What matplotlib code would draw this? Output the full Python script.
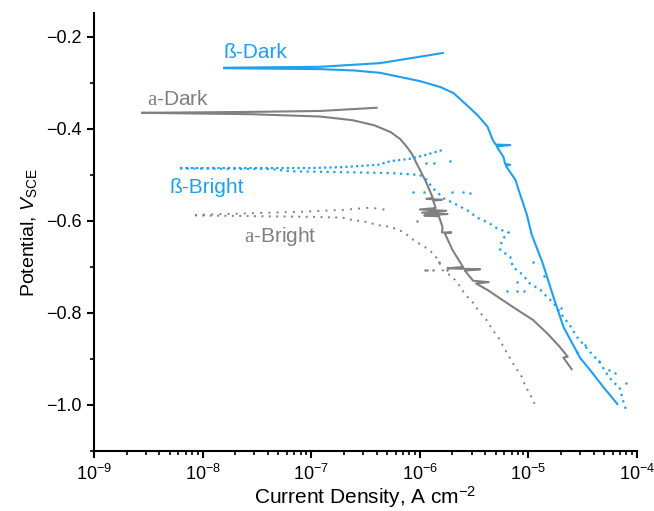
#! /usr/bin/python3

import matplotlib.pyplot as plt
from matplotlib.ticker import MultipleLocator, LogLocator, NullFormatter, FixedLocator

plt.rcParams['font.family'] = ['Liberation Sans', 'DejaVu Sans']
plt.rcParams['mathtext.fontset'] = 'custom'
plt.rcParams['mathtext.rm'] = 'Liberation Serif'
plt.rcParams['mathtext.it'] = 'Liberation Sans:italic'
plt.rcParams['mathtext.sf'] = 'Liberation Sans'

BLUE = '#1e9ff0'
GREY = '#808080'

# x tick positions (current density decades)
decades = [1e-9, 1e-8, 1e-7, 1e-6, 1e-5, 1e-4]

# beta, dark (solid blue)
beta_dark_anodic_i = [1.58e-8, 1.2e-7, 4.3e-7, 6.6e-7, 1.63e-6]
beta_dark_anodic_e = [-0.267, -0.265, -0.257, -0.250, -0.235]
beta_dark_cathodic_i = [1.58e-8, 1.2e-7, 2.5e-7, 4.3e-7, 1.0e-6, 1.55e-6, 2.04e-6, 2.7e-6,
                        3.4e-6, 4.2e-6, 4.7e-6, 5.0e-6, 6.8e-6, 5.1e-6, 5.9e-6, 6.1e-6,
                        6.8e-6, 6.2e-6, 7.6e-6, 8.3e-6, 9.7e-6, 1.07e-5, 1.35e-5, 1.7e-5,
                        2.1e-5, 3.0e-5, 3.7e-5, 4.9e-5, 6.6e-5]
beta_dark_cathodic_e = [-0.268, -0.270, -0.273, -0.278, -0.296, -0.309, -0.322, -0.348,
                        -0.370, -0.395, -0.424, -0.434, -0.435, -0.438, -0.461, -0.476,
                        -0.478, -0.480, -0.511, -0.539, -0.587, -0.629, -0.691, -0.765,
                        -0.830, -0.898, -0.924, -0.961, -0.998]

# alpha, dark (solid grey)
a_dark_anodic_i = [2.78e-9, 2.7e-8, 1.2e-7, 4.0e-7]
a_dark_anodic_e = [-0.365, -0.363, -0.361, -0.354]
a_dark_cathodic_i = [2.78e-9, 2.8e-8, 1.2e-7, 2.4e-7, 3.8e-7, 5.4e-7, 6.6e-7, 7.6e-7,
                     8.5e-7, 9.3e-7, 1.12e-6, 1.32e-6, 1.15e-6, 1.6e-6, 1.33e-6, 1.40e-6,
                     1.0e-6, 1.75e-6, 1.05e-6, 1.8e-6, 1.1e-6, 1.5e-6, 1.62e-6, 1.6e-6,
                     1.95e-6, 1.7e-6, 2.0e-6, 2.5e-6, 1.8e-6, 3.6e-6, 2.6e-6, 3.1e-6,
                     4.3e-6, 3.3e-6, 4.2e-6, 7.2e-6, 1.1e-5, 1.5e-5, 1.95e-5, 2.3e-5,
                     2.1e-5, 2.5e-5]
a_dark_cathodic_e = [-0.365, -0.368, -0.373, -0.381, -0.392, -0.407, -0.422, -0.439,
                     -0.455, -0.474, -0.511, -0.550, -0.552, -0.554, -0.556, -0.572,
                     -0.575, -0.578, -0.582, -0.585, -0.588, -0.590, -0.613, -0.625,
                     -0.625, -0.627, -0.663, -0.700, -0.703, -0.705, -0.708, -0.730,
                     -0.733, -0.736, -0.750, -0.787, -0.815, -0.845, -0.874, -0.895,
                     -0.897, -0.922]

# beta, bright (dotted blue)
beta_bright_anodic_i = [6.2e-9, 9.8e-8, 1.95e-7, 4.1e-7, 5.4e-7, 8.1e-7, 1.12e-6, 1.6e-6]
beta_bright_anodic_e = [-0.485, -0.485, -0.483, -0.478, -0.470, -0.465, -0.457, -0.446]
beta_bright_cathodic_i = [6.2e-9, 4.2e-8, 6.5e-8, 5.4e-7, 1.0e-6, 1.17e-6, 1.3e-6, 1.45e-6,
                          1.62e-6, 2.0e-6, 2.7e-6, 3.4e-6, 4.3e-6, 5.2e-6, 6.6e-6, 5.7e-6,
                          5.5e-6, 6.8e-6, 7.2e-6, 8.9e-6, 1.02e-5, 1.29e-5, 1.48e-5, 1.7e-5,
                          2.1e-5, 2.4e-5, 2.8e-5, 3.7e-5, 4.6e-5, 5.2e-5, 6.0e-5, 6.9e-5,
                          7.4e-5, 8.1e-5]
beta_bright_cathodic_e = [-0.486, -0.487, -0.492, -0.496, -0.500, -0.511, -0.528, -0.537,
                          -0.550, -0.560, -0.576, -0.593, -0.604, -0.617, -0.625, -0.641,
                          -0.663, -0.678, -0.700, -0.717, -0.735, -0.750, -0.765, -0.778,
                          -0.809, -0.826, -0.852, -0.885, -0.909, -0.930, -0.950, -0.961,
                          -0.989, -1.017]
beta_bright_scatter_i = [8.7e-7, 1.1e-6, 2.0e-6, 2.5e-6, 2.9e-6, 1.15e-6, 1.35e-6, 1.9e-6,
                         6.3e-6, 7.9e-6, 9.2e-6, 7.9e-6, 2.8e-5, 4.5e-5, 6.3e-5, 8.0e-5,
                         3.3e-5, 5.5e-5, 1.1e-5, 1.4e-5, 2.0e-5]
beta_bright_scatter_e = [-0.537, -0.537, -0.538, -0.538, -0.540, -0.474, -0.474, -0.470,
                         -0.752, -0.752, -0.752, -0.733, -0.885, -0.905, -0.930, -0.952,
                         -0.870, -0.925, -0.690, -0.720, -0.790]

# alpha, bright (dotted grey)
a_bright_anodic_i = [8.5e-9, 7.9e-8, 1.95e-7, 3.5e-7, 5.0e-7]
a_bright_anodic_e = [-0.587, -0.580, -0.576, -0.571, -0.576]
a_bright_cathodic_i = [8.5e-9, 9.8e-8, 1.95e-7, 2.4e-7, 3.2e-7, 4.1e-7, 5.4e-7, 7.1e-7,
                       8.7e-7, 1.12e-6, 1.32e-6, 1.48e-6, 1.62e-6, 2.0e-6, 2.24e-6, 2.45e-6,
                       2.75e-6, 3.1e-6, 3.55e-6, 4.0e-6, 4.5e-6, 4.9e-6, 5.5e-6, 5.9e-6,
                       6.5e-6, 7.2e-6, 7.9e-6, 8.7e-6, 9.3e-6, 1.02e-5, 1.12e-5, 1.17e-5]
a_bright_cathodic_e = [-0.588, -0.591, -0.593, -0.598, -0.602, -0.609, -0.613, -0.624,
                       -0.641, -0.657, -0.670, -0.685, -0.707, -0.722, -0.735, -0.750,
                       -0.765, -0.778, -0.798, -0.811, -0.830, -0.843, -0.859, -0.874,
                       -0.891, -0.909, -0.924, -0.939, -0.957, -0.974, -0.993, -1.004]
a_bright_scatter_i = [1.12e-6, 1.17e-6, 1.32e-6, 1.78e-6, 1.5e-6, 9.5e-7]
a_bright_scatter_e = [-0.706, -0.707, -0.707, -0.707, -0.690, -0.600]

labels = ['\u00df-Dark', '$\\mathrm{a}$-Dark', '\u00df-Bright', '$\\mathrm{a}$-Bright']
label_i = [1.55e-8, 3.1e-9, 5.0e-9, 2.4e-8]
label_e = [-0.246, -0.348, -0.539, -0.646]
label_col = [BLUE, GREY, BLUE, GREY]


fig = plt.figure(figsize=(6.54, 5.11), dpi=100)
ax = fig.add_axes([0.1437, 0.1174, 0.8303, 0.8572])

# solid curves
ax.plot(beta_dark_anodic_i, beta_dark_anodic_e, color=BLUE, lw=1.5)
ax.plot(beta_dark_cathodic_i, beta_dark_cathodic_e, color=BLUE, lw=1.5)
ax.plot(a_dark_anodic_i, a_dark_anodic_e, color=GREY, lw=1.5)
ax.plot(a_dark_cathodic_i, a_dark_cathodic_e, color=GREY, lw=1.5)

# dotted curves
ax.plot(beta_bright_anodic_i, beta_bright_anodic_e, color=BLUE, lw=1.6, ls=(0, (1, 1.4)))
ax.plot(beta_bright_cathodic_i, beta_bright_cathodic_e, color=BLUE, lw=1.6, ls=(0, (1, 2.0)))
ax.plot(beta_bright_scatter_i, beta_bright_scatter_e, color=BLUE, ls='none', marker='o', ms=1.8, mew=0)
ax.plot(a_bright_anodic_i, a_bright_anodic_e, color=GREY, lw=1.4, ls=(0, (1, 3.2)))
ax.plot(a_bright_cathodic_i, a_bright_cathodic_e, color=GREY, lw=1.4, ls=(0, (1, 2.8)))
ax.plot(a_bright_scatter_i, a_bright_scatter_e, color=GREY, ls='none', marker='o', ms=1.8, mew=0)

for t, xi, ei, c in zip(labels, label_i, label_e, label_col):
	ax.text(xi, ei, t, color=c, fontsize=15, ha='left', va='baseline')

ax.set_xscale('log')
ax.set_xlim(1e-9, 1e-4)
ax.set_ylim(-1.1, -0.148)
ax.yaxis.set_major_locator(MultipleLocator(0.2))
ax.yaxis.set_minor_locator(MultipleLocator(0.1))
ax.yaxis.set_major_formatter(plt.FuncFormatter(lambda v, p: ('%.1f' % v).replace('-', '\u2212')))
ax.xaxis.set_major_locator(FixedLocator(decades))
ax.xaxis.set_minor_locator(LogLocator(base=10, subs=range(2, 10), numticks=20))
ax.xaxis.set_minor_formatter(NullFormatter())

for s in ['top', 'right']:
	ax.spines[s].set_visible(False)
for s in ['left', 'bottom']:
	ax.spines[s].set_linewidth(1.5)
ax.tick_params(which='major', direction='out', length=5, width=1.5, labelsize=13, pad=4)
ax.tick_params(which='minor', direction='out', length=3, width=1.2)

ax.set_xlabel('Current Density, A cm$^{\\mathsf{-2}}$', fontsize=15, labelpad=0)
ax.set_ylabel('Potential, $V_{\\mathsf{SCE}}$', fontsize=14, labelpad=5)

plt.savefig('out.png', dpi=100)
